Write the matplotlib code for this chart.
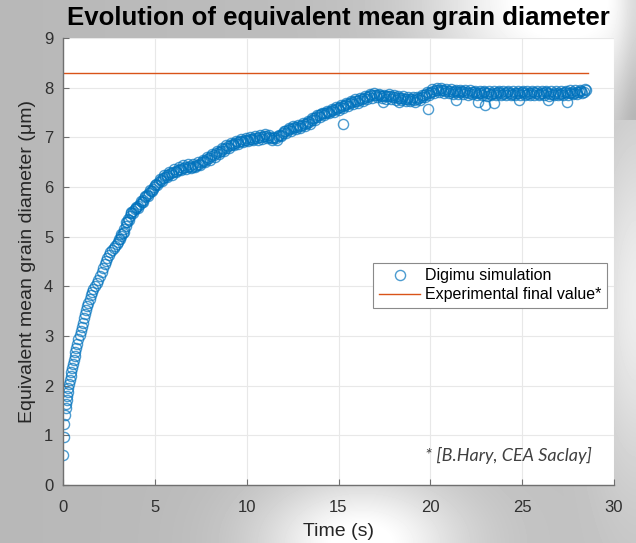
import numpy as np
import matplotlib
matplotlib.use("Agg")
from matplotlib import pyplot as plt

# simulation: time (s) and equivalent mean grain diameter (um)
t_sim = [0.00, 0.03, 0.07, 0.11, 0.14, 0.17, 0.20, 0.23, 0.26, 0.29, 0.33, 0.37,
         0.41, 0.45, 0.49, 0.53, 0.58, 0.63, 0.68, 0.73, 0.78, 0.84, 0.90, 0.96,
         1.02, 1.08, 1.14, 1.20, 1.26, 1.32, 1.38, 1.45, 1.52, 1.59, 1.66, 1.74,
         1.83, 1.92, 2.01, 2.10, 2.18, 2.26, 2.34, 2.42, 2.50, 2.58, 2.66, 2.75,
         2.84, 2.93, 3.01, 3.09, 3.17, 3.25, 3.33, 3.41, 3.48, 3.56, 3.64, 3.72,
         3.81, 3.90, 3.99, 4.08, 4.18, 4.28, 4.38, 4.48, 4.58, 4.68, 4.78, 4.88,
         4.98, 5.09, 5.20, 5.31, 5.42, 5.53, 5.65, 5.77, 5.89, 6.01, 6.13, 6.26,
         6.39, 6.52, 6.65, 6.78, 6.91, 7.04, 7.17, 7.30, 7.43, 7.56, 7.69, 7.82,
         7.95, 8.08, 8.21, 8.34, 8.47, 8.60, 8.73, 8.86, 8.99, 9.12, 9.25, 9.38,
         9.51, 9.64, 9.77, 9.90, 10.03, 10.16, 10.29, 10.42, 10.55, 10.68, 10.81, 10.94,
         11.07, 11.20, 11.33, 11.46, 11.59, 11.72, 11.85, 11.98, 12.11, 12.24, 12.37, 12.50,
         12.63, 12.76, 12.89, 13.02, 13.15, 13.28, 13.41, 13.54, 13.67, 13.80, 13.93, 14.06,
         14.19, 14.32, 14.45, 14.58, 14.71, 14.84, 14.97, 15.10, 15.25, 15.23, 15.36, 15.49,
         15.62, 15.75, 15.88, 16.01, 16.14, 16.27, 16.40, 16.53, 16.66, 16.79, 16.92, 17.05,
         17.18, 17.31, 17.44, 17.57, 17.70, 17.83, 17.96, 18.09, 18.22, 18.35, 18.48, 18.61,
         18.74, 18.87, 19.00, 19.13, 19.26, 19.39, 19.52, 19.65, 19.78, 19.90, 19.91, 20.04,
         20.17, 20.30, 20.43, 20.56, 20.69, 20.82, 20.95, 21.08, 21.21, 21.34, 21.40, 21.47,
         21.60, 21.73, 21.86, 21.99, 22.12, 22.25, 22.38, 22.51, 22.64, 22.77, 22.90, 23.00,
         23.03, 23.16, 23.29, 23.45, 23.42, 23.55, 23.68, 23.81, 23.94, 24.07, 24.20, 24.33,
         24.46, 24.59, 24.72, 24.85, 24.85, 24.98, 25.11, 25.24, 25.37, 25.50, 25.63, 25.76,
         25.89, 26.02, 26.15, 26.28, 26.41, 26.54, 26.67, 26.80, 26.93, 27.06, 27.19, 27.32,
         27.45, 27.45, 27.58, 27.71, 27.84, 27.97, 28.10, 28.23, 28.36, 28.45,
         17.40, 18.30, 22.60, 26.40]
d_sim = [0.60, 0.97, 1.23, 1.41, 1.55, 1.63, 1.71, 1.79, 1.87, 1.96, 2.04, 2.12,
         2.20, 2.28, 2.36, 2.44, 2.52, 2.60, 2.68, 2.76, 2.84, 2.93, 3.02, 3.10,
         3.18, 3.27, 3.36, 3.45, 3.52, 3.60, 3.67, 3.74, 3.82, 3.88, 3.94, 4.01,
         4.07, 4.13, 4.20, 4.28, 4.36, 4.44, 4.51, 4.57, 4.63, 4.69, 4.73, 4.77,
         4.81, 4.85, 4.89, 4.95, 5.01, 5.08, 5.15, 5.22, 5.29, 5.36, 5.42, 5.47,
         5.51, 5.55, 5.58, 5.62, 5.66, 5.70, 5.74, 5.79, 5.84, 5.88, 5.92, 5.96,
         6.00, 6.06, 6.10, 6.14, 6.18, 6.21, 6.24, 6.26, 6.28, 6.31, 6.33, 6.35,
         6.37, 6.39, 6.40, 6.41, 6.42, 6.41, 6.43, 6.45, 6.47, 6.50, 6.53, 6.56,
         6.59, 6.62, 6.65, 6.68, 6.70, 6.73, 6.76, 6.79, 6.82, 6.84, 6.87, 6.89,
         6.90, 6.92, 6.93, 6.94, 6.95, 6.96, 6.97, 6.98, 6.98, 7.00, 7.01, 7.02,
         7.03, 7.01, 6.99, 6.98, 6.99, 7.02, 7.05, 7.09, 7.12, 7.14, 7.16, 7.18,
         7.20, 7.21, 7.22, 7.24, 7.26, 7.28, 7.31, 7.35, 7.38, 7.41, 7.44, 7.46,
         7.48, 7.50, 7.52, 7.54, 7.56, 7.58, 7.60, 7.62, 7.27, 7.63, 7.65, 7.67,
         7.70, 7.72, 7.73, 7.74, 7.75, 7.77, 7.79, 7.81, 7.83, 7.85, 7.86, 7.86,
         7.85, 7.84, 7.83, 7.83, 7.84, 7.83, 7.82, 7.81, 7.80, 7.80, 7.79, 7.78,
         7.78, 7.77, 7.77, 7.76, 7.77, 7.79, 7.82, 7.85, 7.88, 7.57, 7.90, 7.92,
         7.94, 7.95, 7.96, 7.96, 7.95, 7.94, 7.93, 7.94, 7.92, 7.93, 7.75, 7.91,
         7.92, 7.93, 7.92, 7.91, 7.90, 7.91, 7.92, 7.90, 7.89, 7.90, 7.91, 7.66,
         7.89, 7.90, 7.88, 7.69, 7.89, 7.90, 7.91, 7.89, 7.88, 7.90, 7.91, 7.89,
         7.88, 7.90, 7.89, 7.76, 7.90, 7.91, 7.89, 7.88, 7.89, 7.90, 7.91, 7.89,
         7.88, 7.90, 7.89, 7.91, 7.90, 7.88, 7.87, 7.89, 7.90, 7.88, 7.89, 7.91,
         7.72, 7.90, 7.89, 7.91, 7.90, 7.92, 7.91, 7.93, 7.92, 7.95,
         7.72, 7.71, 7.72, 7.76]

# second run of samples in between, (time, diameter)
sim_b = [(3.05, 4.96), (3.18, 5.06), (3.31, 5.10), (3.44, 5.30), (3.57, 5.33), (3.70, 5.50),
         (3.83, 5.48), (3.96, 5.60), (4.09, 5.58), (4.22, 5.71), (4.35, 5.70), (4.48, 5.82),
         (4.61, 5.81), (4.74, 5.93), (4.87, 5.92), (5.00, 6.05), (5.13, 6.04), (5.26, 6.16),
         (5.39, 6.13), (5.52, 6.25), (5.65, 6.20), (5.78, 6.31), (5.91, 6.25), (6.04, 6.36),
         (6.17, 6.30), (6.30, 6.40), (6.43, 6.34), (6.56, 6.44), (6.69, 6.36), (6.82, 6.46),
         (6.95, 6.38), (7.08, 6.46), (7.21, 6.40), (7.34, 6.50), (7.47, 6.44), (7.60, 6.55),
         (7.73, 6.50), (7.86, 6.61), (7.99, 6.55), (8.12, 6.67), (8.25, 6.61), (8.38, 6.73),
         (8.51, 6.66), (8.64, 6.78), (8.77, 6.72), (8.90, 6.84), (9.03, 6.78), (9.16, 6.89),
         (9.29, 6.84), (9.42, 6.93), (9.55, 6.87), (9.68, 6.96), (9.81, 6.90), (9.94, 6.98),
         (10.07, 6.92), (10.20, 7.00), (10.33, 6.94), (10.46, 7.02), (10.59, 6.95), (10.72, 7.04),
         (10.85, 6.97), (10.98, 7.06), (11.11, 6.99), (11.24, 7.04), (11.37, 6.95), (11.50, 7.01),
         (11.63, 6.94), (11.76, 7.05), (11.89, 7.02), (12.02, 7.13), (12.15, 7.08), (12.28, 7.18),
         (12.41, 7.12), (12.54, 7.22), (12.67, 7.16), (12.80, 7.25), (12.93, 7.19), (13.06, 7.28),
         (13.19, 7.22), (13.32, 7.32), (13.45, 7.27), (13.58, 7.39), (13.71, 7.34), (13.84, 7.45),
         (13.97, 7.40), (14.10, 7.50), (14.23, 7.44), (14.36, 7.54), (14.49, 7.48), (14.62, 7.58),
         (14.75, 7.52), (14.88, 7.62), (15.01, 7.56), (15.14, 7.66), (15.27, 7.59), (15.40, 7.69),
         (15.53, 7.63), (15.66, 7.74), (15.79, 7.68), (15.92, 7.77), (16.05, 7.70), (16.18, 7.79),
         (16.31, 7.73), (16.44, 7.83), (16.57, 7.77), (16.70, 7.87), (16.83, 7.80), (16.96, 7.89),
         (17.09, 7.81), (17.22, 7.88), (17.35, 7.79), (17.48, 7.86), (17.61, 7.78), (17.74, 7.87),
         (17.87, 7.78), (18.00, 7.85), (18.13, 7.76), (18.26, 7.84), (18.39, 7.75), (18.52, 7.83),
         (18.65, 7.74), (18.78, 7.82), (18.91, 7.73), (19.04, 7.81), (19.17, 7.72), (19.30, 7.81),
         (19.43, 7.75), (19.56, 7.86), (19.69, 7.81), (19.82, 7.92), (19.95, 7.86), (20.08, 7.97),
         (20.21, 7.90), (20.34, 7.99), (20.47, 7.91), (20.60, 7.99), (20.73, 7.90), (20.86, 7.98),
         (20.99, 7.89), (21.12, 7.97), (21.25, 7.88), (21.38, 7.96), (21.51, 7.87), (21.64, 7.96),
         (21.77, 7.88), (21.90, 7.95), (22.03, 7.86), (22.16, 7.95), (22.29, 7.87), (22.42, 7.94),
         (22.55, 7.85), (22.68, 7.94), (22.81, 7.86), (22.94, 7.93), (23.07, 7.84), (23.20, 7.94),
         (23.33, 7.85), (23.46, 7.93), (23.59, 7.86), (23.72, 7.94), (23.85, 7.85), (23.98, 7.93),
         (24.11, 7.86), (24.24, 7.94), (24.37, 7.85), (24.50, 7.93), (24.63, 7.86), (24.76, 7.94),
         (24.89, 7.85), (25.02, 7.93), (25.15, 7.86), (25.28, 7.94), (25.41, 7.85), (25.54, 7.93),
         (25.67, 7.86), (25.80, 7.94), (25.93, 7.85), (26.06, 7.93), (26.19, 7.86), (26.32, 7.94),
         (26.45, 7.84), (26.58, 7.93), (26.71, 7.85), (26.84, 7.94), (26.97, 7.86), (27.10, 7.93),
         (27.23, 7.85), (27.36, 7.94), (27.49, 7.86), (27.62, 7.95), (27.75, 7.87), (27.88, 7.95),
         (28.01, 7.88), (28.14, 7.96), (28.27, 7.89), (28.40, 7.97)]

# experimental final value (horizontal reference line)
t_exp = [0.0, 28.6]
d_exp = [8.3, 8.3]

x_ticks = [0, 5, 10, 15, 20, 25, 30]
y_ticks = [0, 1, 2, 3, 4, 5, 6, 7, 8, 9]

blue = "#0072BD"
orange = "#D95319"

t_all = t_sim + [p[0] for p in sim_b]
d_all = d_sim + [p[1] for p in sim_b]

fig = plt.figure(figsize=(6.36, 5.43), dpi=100)

# grey slide background with bright spots
bg_ax = fig.add_axes([0, 0, 1, 1], zorder=-10)
yy, xx = np.mgrid[0:543, 0:636]
spot1 = np.exp(-((xx - 560) ** 2 / (2 * 90.0 ** 2) + yy ** 2 / (2 * 70.0 ** 2)))
spot2 = np.exp(-((xx - 360) ** 2 / (2 * 70.0 ** 2) + (yy - 543) ** 2 / (2 * 45.0 ** 2)))
spot3 = np.exp(-((xx - 636) ** 2 / (2 * 30.0 ** 2) + (yy - 300) ** 2 / (2 * 120.0 ** 2)))
bg = 0.72 + 0.28 * np.maximum(np.maximum(spot1, spot2), 0.6 * spot3)
bg = bg + 0.04 * (xx / 636.0) - 0.1 * np.exp(-((xx - 636) ** 2) / (2 * 12.0 ** 2)) * (yy < 120)
bg_ax.imshow(np.clip(bg, 0, 1), cmap="gray", vmin=0, vmax=1, aspect="auto")
bg_ax.axis("off")

ax = fig.add_axes([63 / 636, 58 / 543, 551 / 636, 447 / 543])
ax.set_facecolor("white")

ax.plot(t_all, d_all, "o", mfc="none", mec=blue, ms=7.3, mew=1.0, alpha=0.7,
        label="Digimu simulation")
ax.plot(t_exp, d_exp, "-", color=orange, lw=1.0, label="Experimental final value*")

ax.set_xlim(0, 30)
ax.set_ylim(0, 9)
ax.set_xticks(x_ticks)
ax.set_yticks(y_ticks)
ax.grid(True, color="#e8e8e8", lw=0.8)
ax.set_axisbelow(True)
for side in ["top", "right"]:
    ax.spines[side].set_visible(False)
for side in ["left", "bottom"]:
    ax.spines[side].set_color("#707070")
    ax.spines[side].set_linewidth(1.0)
ax.tick_params(direction="in", length=4, width=0.8, color="#707070",
               labelsize=12, labelcolor="#303030")
ax.tick_params(axis="x", pad=11)
ax.tick_params(axis="y", pad=7)
for lab in ax.get_xticklabels() + ax.get_yticklabels():
    lab.set_family("Liberation Sans")

ax.set_xlabel("Time (s)", fontsize=14, family="Liberation Sans", color="#262626", va="top")
ax.xaxis.set_label_coords(0.5, -0.084)
ax.set_ylabel("Equivalent mean grain diameter (μm)", fontsize=14,
              family="Liberation Sans", color="#262626", va="center")
ax.yaxis.set_label_coords(-0.064, 0.5)

leg = ax.legend(loc="upper left", bbox_to_anchor=(0.563, 0.497),
                prop={"family": "Liberation Sans", "size": 11.5},
                handlelength=2.6, handletextpad=0.3, borderpad=0.35,
                labelspacing=0.25, borderaxespad=0, fancybox=False, framealpha=1)
leg.get_frame().set_edgecolor("#8a8a8a")
leg.get_frame().set_linewidth(0.8)

ax.text(0.96, 0.067, "* [B.Hary, CEA Saclay]", transform=ax.transAxes,
        ha="right", va="center", fontsize=13, style="italic", family="Lato",
        color="#404040")

fig.text(338.5 / 636, 1 - 18 / 543, "Evolution of equivalent mean grain diameter",
         ha="center", va="center", fontsize=18.5, fontweight="bold",
         family="Liberation Sans", color="black")

fig.savefig("out.png", dpi=100)
